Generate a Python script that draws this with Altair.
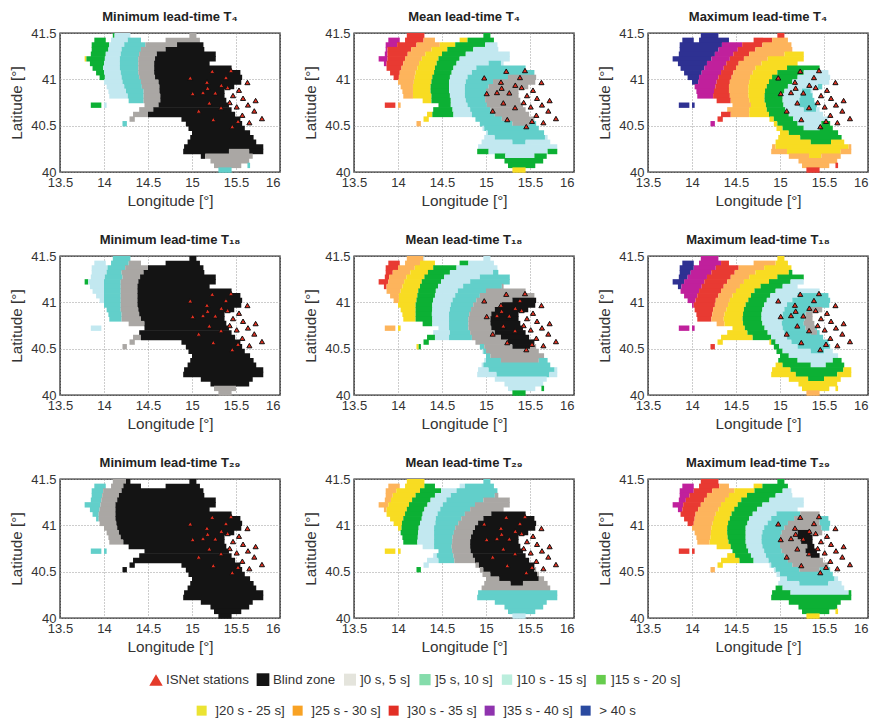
import altair as alt
import pandas as pd

LATS = [41.475, 41.425, 41.375, 41.325, 41.275, 41.225, 41.175, 41.125, 41.075, 41.025,
        40.975, 40.925, 40.875, 40.825, 40.775, 40.725, 40.675, 40.625, 40.575, 40.525,
        40.475, 40.425, 40.375, 40.325, 40.275, 40.225, 40.175, 40.125, 40.075, 40.025]

LAND = [
    [(14.10, 14.30), (14.97, 15.05)],
    [(13.89, 14.02), (14.08, 14.42), (14.70, 15.09)],
    [(13.86, 15.13)], [(13.86, 15.14)], [(13.85, 15.27)], [(13.78, 15.27)], [(13.84, 15.20)],
    [(13.87, 15.45)], [(13.91, 15.55)], [(13.95, 15.57)], [(14.00, 15.56)], [(14.03, 15.48)],
    [(14.05, 15.37)], [(14.06, 15.37)], [(14.28, 15.39)],
    [(13.85, 13.97), (14.00, 14.03), (14.46, 15.42)],
    [(14.40, 15.45)], [(14.33, 15.49)],
    [(14.29, 14.35), (14.88, 15.55)],
    [(14.21, 14.26), (14.93, 15.57)],
    [(14.96, 15.60)], [(15.00, 15.66)], [(14.98, 15.70)], [(14.95, 15.73)], [(14.91, 15.81)],
    [(14.90, 15.81)], [(15.10, 15.69)], [(15.21, 15.65)],
    [(15.25, 15.56), (15.63, 15.66)], [(15.30, 15.45)],
]

# each row: zone:east-limit ... ; an east limit of 9 means "to the east end of the land"
MIN_T4 = [
    "4:14.12 3:14.30 1:9", "4:14.05 3:14.27 2:14.45 1:9", "4:14.06 3:14.23 2:14.47 1:14.83 B:9",
    "4:14.05 3:14.20 2:14.42 1:14.70 B:9", "4:14.02 3:14.19 2:14.40 1:14.60 B:9",
    "5:13.80 4:14.01 3:14.18 2:14.39 1:14.58 B:9", "4:14.00 3:14.18 2:14.39 1:14.57 B:9",
    "4:13.99 3:14.18 2:14.39 1:14.57 B:9", "4:14.00 3:14.19 2:14.39 1:14.57 B:9",
    "4:14.01 3:14.20 2:14.40 1:14.58 B:9", "3:14.21 2:14.42 1:14.62 B:9", "3:14.23 2:14.43 1:14.63 B:9",
    "3:14.25 2:14.45 1:14.63 B:9", "3:14.27 2:14.45 1:14.64 B:9", "2:14.45 1:14.64 B:9",
    "4:13.98 3:14.05 1:14.62 B:9", "1:14.56 B:9", "1:14.50 B:9", "1:14.50 B:9", "2:14.3 B:9",
    "B:9", "B:9", "B:9", "B:9", "B:9", "B:15.42 1:15.65 B:9", "B:15.15 1:9", "1:9", "1:15.58 2:9", "2:9",
]
MEAN_T4 = [
    "7:14.3 4:9", "8:14.03 7:14.29 6:14.46 5:14.79 4:9", "8:13.99 7:14.21 6:14.475 5:14.65 4:14.99 3:9",
    "8:13.88 7:14.15 6:14.38 5:14.56 4:14.855 3:9", "8:13.88 7:14.11 6:14.31 5:14.5 4:14.77 3:9",
    "8:13.88 7:14.08 6:14.27 5:14.46 4:14.7 3:9", "8:13.87 7:14.06 6:14.24 5:14.44 4:14.665 3:15.03 2:15.17 3:9",
    "7:14.04 6:14.22 5:14.42 4:14.63 3:14.89 2:9", "7:14.02 6:14.2 5:14.41 4:14.61 3:14.84 2:9",
    "7:14.01 6:14.19 5:14.39 4:14.59 3:14.79 2:15.25 1:9", "6:14.18 5:14.38 4:14.58 3:14.77 2:15.08 1:9",
    "6:14.17 5:14.37 4:14.58 3:14.76 2:15.03 1:9", "6:14.17 5:14.37 4:14.58 3:14.76 2:15.0 1:9",
    "6:14.17 5:14.38 4:14.59 3:14.76 2:14.99 1:9", "5:14.38 4:14.6 3:14.77 2:14.99 1:9",
    "7:13.97 6:14.05 4:14.6 3:14.79 2:15.01 1:9", "4:14.62 3:14.82 2:15.05 1:9",
    "5:14.39 4:14.63 3:14.84 2:15.1 1:9", "5:14.6 3:14.87 2:15.18 1:9", "6:14.3 3:14.93 2:15.3 1:15.5 2:9",
    "3:14.98 2:9", "3:15.02 2:9", "3:15.1 2:15.67 3:9", "3:15.3 2:15.45 3:9", "3:9", "4:15.03 3:15.7 4:9",
    "4:15.22 3:15.55 4:9", "4:9", "4:15.6 0:9", "5:9",
]
MAX_T4 = [
    "9:14.5 7:9", "9:14.43 7:14.91 6:9", "9:14.34 8:14.57 7:14.8 6:9", "9:14.3 8:14.52 7:14.72 6:9",
    "9:14.26 8:14.47 7:14.65 6:15.05 5:9", "9:14.22 8:14.43 7:14.59 6:14.86 5:9",
    "9:14.17 8:14.39 7:14.53 6:14.79 5:9", "9:14.14 8:14.36 7:14.5 6:14.72 5:15.08 4:9",
    "9:14.11 8:14.33 7:14.47 6:14.69 5:14.97 4:15.27 3:9", "9:14.08 8:14.3 7:14.45 6:14.66 5:14.91 4:15.2 3:9",
    "9:14.07 8:14.28 7:14.43 6:14.65 5:14.875 4:15.14 3:9", "8:14.265 7:14.42 6:14.64 5:14.85 4:15.09 3:15.43 2:15.5 3:9",
    "8:14.25 7:14.42 6:14.64 5:14.83 4:15.05 3:15.25 2:15.35 3:9", "8:14.24 7:14.43 6:14.64 5:14.825 4:15.03 3:15.23 2:15.39 3:9",
    "7:14.44 6:14.65 5:14.825 4:15.03 3:15.22 2:15.42 3:9", "9:14.1 6:14.67 5:14.84 4:15.04 3:15.22 2:15.43 3:9",
    "6:14.65 5:14.85 4:15.06 3:15.27 2:15.41 3:9", "7:14.44 6:14.65 5:14.875 4:15.1 3:9",
    "7:14.5 5:14.93 4:15.15 3:9", "8:14.3 5:14.97 4:15.2 3:15.47 4:9", "5:15.03 4:15.27 3:15.45 4:9",
    "5:15.1 4:9", "5:15.23 4:15.7 5:9", "5:15.35 4:15.58 5:9", "6:14.95 5:15.78 6:9", "6:15.08 5:15.69 6:9",
    "6:15.33 5:15.47 6:9", "6:9", "6:15.6 7:9", "7:9",
]
MIN_T18 = [
    "3:14.1 2:14.31 B:9", "3:14.06 2:14.28 1:14.55 B:9", "3:14.04 2:14.24 1:14.5 B:9", "3:14.03 2:14.2 1:14.45 B:9",
    "3:14.01 2:14.21 1:14.41 B:9", "4:13.82 3:14.0 2:14.19 1:14.39 B:9", "3:14.0 2:14.19 1:14.38 B:9",
    "3:14.0 2:14.19 1:14.38 B:9", "3:14.0 2:14.19 1:14.38 B:9", "3:14.0 2:14.19 1:14.38 B:9",
    "2:14.19 1:14.38 B:9", "2:14.19 1:14.39 B:9", "2:14.2 1:14.4 B:9", "2:14.2 1:14.42 B:9", "1:14.46 B:9",
    "3:13.98 0:14.1 B:9", "B:9", "1:14.42 B:9", "1:14.42 B:9", "1:14.3 B:9", "B:9", "B:9", "B:9", "B:9", "B:9",
    "B:9", "B:9", "B:9", "1:15.5 0:9", "1:9",
]
MEAN_T18 = [
    "6:14.29 3:9", "7:14.02 6:14.25 5:14.475 4:14.8 3:9", "7:14.0 6:14.19 5:14.4 4:14.665 3:9",
    "7:13.94 6:14.14 5:14.34 4:14.59 3:15.08 2:9", "7:13.9 6:14.095 5:14.3 4:14.525 3:14.93 2:9",
    "7:13.89 6:14.07 5:14.27 4:14.49 3:14.82 2:9", "7:13.87 6:14.05 5:14.25 4:14.455 3:14.74 2:15.18 1:9",
    "6:14.03 5:14.23 4:14.43 3:14.68 2:15.0 1:9", "6:14.01 5:14.22 4:14.42 3:14.65 2:14.93 1:9",
    "6:14.01 5:14.21 4:14.4 3:14.62 2:14.89 1:15.3 B:9", "5:14.2 4:14.39 3:14.6 2:14.855 1:15.18 B:9",
    "5:14.2 4:14.39 3:14.59 2:14.83 1:15.1 B:9", "5:14.2 4:14.385 3:14.58 2:14.81 1:15.06 B:9",
    "5:14.2 4:14.39 3:14.58 2:14.8 1:15.05 B:9", "4:14.39 3:14.58 2:14.8 1:15.05 B:9",
    "6:13.97 5:14.05 3:14.58 2:14.8 1:15.06 B:9", "3:14.59 2:14.82 1:15.1 B:9", "4:14.42 3:14.58 2:14.84 1:15.17 B:9",
    "4:14.5 2:14.875 1:15.25 B:9", "5:14.235 4:14.3 2:14.98 1:15.3 B:15.5 1:9", "3:14.97 2:15.0 1:9", "2:15.05 1:9",
    "3:15.0 2:15.17 1:15.6 2:9", "3:14.97 2:9", "3:15.03 2:15.78 3:9", "3:15.12 2:15.72 3:9", "3:9", "3:9",
    "3:15.6 4:9", "4:9",
]
MAX_T18 = [
    "9:14.1 8:14.5 5:9", "9:14.06 8:14.33 7:14.5 6:14.95 5:9", "9:14.02 8:14.27 7:14.53 6:14.82 5:9",
    "9:13.985 8:14.22 7:14.485 6:14.72 5:15.1 4:9", "9:13.95 8:14.17 7:14.44 6:14.65 5:14.97 4:9",
    "9:13.91 8:14.14 7:14.4 6:14.59 5:14.875 4:15.12 3:9", "9:13.88 8:14.11 7:14.36 6:14.545 5:14.78 4:15.03 3:9",
    "8:14.08 7:14.33 6:14.5 5:14.71 4:14.95 3:9", "8:14.06 7:14.3 6:14.46 5:14.67 4:14.89 3:15.2 2:9",
    "8:14.04 7:14.27 6:14.43 5:14.64 4:14.85 3:15.14 2:9", "8:14.02 7:14.26 6:14.41 5:14.61 4:14.82 3:15.08 2:9",
    "7:14.24 6:14.39 5:14.59 4:14.8 3:15.05 2:15.35 1:9", "7:14.23 6:14.37 5:14.58 4:14.79 3:15.03 2:15.29 1:9",
    "7:14.22 6:14.36 5:14.575 4:14.79 3:15.03 2:15.28 1:9", "6:14.37 5:14.58 4:14.8 3:15.02 2:15.27 1:9",
    "8:14.1 5:14.6 4:14.825 3:15.03 2:15.29 1:15.4 2:9", "5:14.63 4:14.86 3:15.05 2:15.35 1:15.42 2:9",
    "5:14.69 4:14.9 3:15.08 2:9", "5:14.9 4:14.95 3:15.13 2:9", "7:14.3 4:14.99 3:15.2 2:9",
    "4:15.03 3:15.35 2:15.5 3:9", "4:15.1 3:9", "4:15.2 3:15.6 4:9", "5:15.03 4:15.35 3:15.52 4:9",
    "5:15.12 4:15.72 5:9", "5:15.18 4:15.65 5:9", "5:15.32 4:15.5 5:9", "5:9", "5:9", "6:9",
]
MIN_T29 = [
    "1:14.25 B:9", "2:14.05 1:14.22 B:9", "2:13.99 1:14.2 B:9", "2:13.98 1:14.17 B:9", "2:13.97 1:14.15 B:9",
    "2:13.96 1:14.13 B:9", "2:13.95 1:14.13 B:9", "2:13.94 1:14.13 B:9", "2:13.94 1:14.13 B:9", "2:13.94 1:14.14 B:9",
    "1:14.15 B:9", "1:14.17 B:9", "1:14.19 B:9", "1:14.22 B:9", "B:9", "2:14.1 B:9", "B:9", "B:9", "B:9", "B:9",
    "B:9", "B:9", "B:9", "B:9", "B:9", "B:9", "B:9", "B:9", "B:15.58 0:9", "B:9",
]
MEAN_T29 = [
    "5:14.3 2:9", "6:14.02 5:14.3 4:14.5 3:14.76 2:9", "6:13.98 5:14.25 4:14.49 3:14.665 2:9",
    "6:13.94 5:14.2 4:14.42 3:14.6 2:15.1 1:9", "6:13.92 5:14.16 4:14.37 3:14.55 2:14.97 1:9",
    "6:13.89 5:14.125 4:14.335 3:14.51 2:14.875 1:9", "6:13.87 5:14.1 4:14.3 3:14.48 2:14.82 1:9",
    "5:14.08 4:14.28 3:14.45 2:14.76 1:15.06 B:9", "5:14.06 4:14.27 3:14.43 2:14.72 1:14.97 B:9",
    "5:14.045 4:14.25 3:14.425 2:14.685 1:14.91 B:9", "5:14.04 4:14.235 3:14.41 2:14.65 1:14.875 B:9",
    "5:14.03 4:14.23 3:14.41 2:14.635 1:14.85 B:9", "4:14.225 3:14.41 2:14.62 1:14.83 B:9",
    "4:14.22 3:14.41 2:14.615 1:14.82 B:9", "3:14.41 2:14.61 1:14.82 B:9",
    "5:14.1 3:14.42 2:14.615 1:14.825 B:9", "3:14.44 2:14.63 1:14.85 B:9", "3:14.46 2:14.64 1:14.875 B:9",
    "3:14.5 1:14.92 B:9", "4:14.3 1:14.97 B:15.55 1:9", "1:15.05 B:15.58 1:9", "1:15.15 B:15.6 1:9",
    "1:15.28 B:15.42 1:9", "1:9", "2:9", "2:9", "2:9", "2:9", "2:15.58 0:9", "3:9",
]
MAX_T29 = [
    "7:14.5 4:9", "8:14.06 7:14.31 6:14.5 5:14.8 4:9", "8:14.02 7:14.23 6:14.48 5:14.71 4:15.03 3:9",
    "8:13.97 7:14.17 6:14.42 5:14.625 4:14.95 3:9", "8:13.93 7:14.14 6:14.375 5:14.56 4:14.88 3:9",
    "8:13.9 7:14.1 6:14.33 5:14.52 4:14.8 3:9", "8:13.89 7:14.07 6:14.3 5:14.48 4:14.74 3:9",
    "7:14.04 6:14.27 5:14.45 4:14.69 3:14.96 2:15.23 1:9", "7:14.03 6:14.25 5:14.43 4:14.65 3:14.9 2:15.16 1:15.45 2:9",
    "7:14.02 6:14.235 5:14.41 4:14.63 3:14.86 2:15.09 1:15.45 2:9", "6:14.22 5:14.4 4:14.61 3:14.82 2:15.05 1:15.47 2:9",
    "6:14.215 5:14.4 4:14.61 3:14.8 2:15.02 1:15.2 B:15.35 1:9", "6:14.21 5:14.405 4:14.61 3:14.79 2:15.0 1:15.2 B:15.39 1:9",
    "6:14.2 5:14.415 4:14.61 3:14.79 2:15.0 1:15.24 B:9", "5:14.44 4:14.62 3:14.8 2:15.0 1:15.31 B:9",
    "7:14.1 5:14.46 4:14.64 3:14.82 2:15.02 1:15.29 B:9", "5:14.49 4:14.67 3:14.84 2:15.05 1:15.35 B:9",
    "5:14.54 4:14.7 3:14.87 2:15.09 1:9", "5:14.6 3:14.9 2:15.14 1:9", "6:14.3 3:14.95 2:15.22 1:15.45 2:9",
    "3:15.0 2:9", "3:15.08 2:15.62 3:9", "3:15.22 2:15.55 3:9", "4:15.03 3:9", "4:15.12 3:15.78 4:9", "4:9", "4:9",
    "4:9", "4:15.58 5:9", "5:9",
]

STATION_LON = [14.98, 15.23, 15.443, 15.386, 15.17, 15.63, 15.178, 15.333, 15.405, 15.534, 15.008, 15.125, 15.265,
               15.466, 15.58, 15.723, 15.197, 15.428, 15.636, 15.33, 15.508, 15.076, 15.708, 15.572, 15.795, 15.242,
               15.523, 15.652, 15.458]
STATION_LAT = [41.016, 41.088, 41.095, 41.02, 40.97, 40.966, 40.905, 40.937, 40.912, 40.883, 40.847, 40.858, 40.854,
               40.825, 40.796, 40.771, 40.746, 40.75, 40.724, 40.695, 40.703, 40.659, 40.659, 40.613, 40.577, 40.566,
               40.548, 40.533, 40.49]

ZONE_IDS = ["B", "1", "2", "3", "4", "5", "6", "7", "8", "9"]
MAP_COLORS = ["#141414", "#aaa7a4", "#62cfca", "#c2e8f0", "#0cb034", "#f8dc22", "#fdb45c", "#e83a32", "#c0209c", "#2e3192"]
LEGEND_ROW1 = ["ISNet stations", "Blind zone", "]0 s, 5 s]", "]5 s, 10 s]", "]10 s - 15 s]", "]15 s - 20 s]"]
LEGEND_ROW1_COLORS = ["#e43a2a", "#141414", "#e4e4dc", "#85dcab", "#bbeedd", "#66cc4d"]
LEGEND_ROW1_SHAPES = ["triangle-up", "square", "square", "square", "square", "square"]
LEGEND_ROW1_SIZES = [180, 90, 90, 90, 90, 90]
LEGEND_ROW2 = ["]20 s - 25 s]", "]25 s - 30 s]", "]30 s - 35 s]", "]35 s - 40 s]", "> 40 s"]
LEGEND_ROW2_COLORS = ["#ebe332", "#f8a224", "#e22f25", "#8f33ae", "#2a4aa0"]

PANELS = [
    ("Minimum lead-time T₄", MIN_T4), ("Mean lead-time T₄", MEAN_T4), ("Maximum lead-time T₄", MAX_T4),
    ("Minimum lead-time T₁₈", MIN_T18), ("Mean lead-time T₁₈", MEAN_T18), ("Maximum lead-time T₁₈", MAX_T18),
    ("Minimum lead-time T₂₉", MIN_T29), ("Mean lead-time T₂₉", MEAN_T29), ("Maximum lead-time T₂₉", MAX_T29),
]

FONT = "Liberation Sans"
INK = "#333333"

zone_scale = alt.Scale(domain=ZONE_IDS, range=MAP_COLORS)
x_scale = alt.Scale(domain=[13.5, 16], nice=False, zero=False)
y_scale = alt.Scale(domain=[40, 41.5], nice=False, zero=False)
x_axis = alt.Axis(
    title="Longitude [°]", values=[13.5, 14, 14.5, 15, 15.5, 16], format="~g", labelFlush=False,
    labelAlign={"condition": {"test": "datum.value >= 16", "value": "right"}, "value": "center"},
)
y_axis = alt.Axis(title="Latitude [°]", values=[40, 40.5, 41, 41.5], format="~g")


def cells(rows):
    out = []
    half = 0.025
    for lat, segments, row in zip(LATS, LAND, rows):
        start = 0.0
        for token in row.split():
            zone, end = token.split(":")
            end = 99.0 if end == "9" else float(end)
            if zone != "0":
                for a, b in segments:
                    lo, hi = max(a, start), min(b, end)
                    if hi > lo:
                        out.append(dict(lon0=lo, lon1=hi, lat0=lat - half - 0.008, lat1=lat + half, zone=zone))
            start = end
    return pd.DataFrame(out)


stations = pd.DataFrame({"lon": STATION_LON, "lat": STATION_LAT})
row1 = pd.DataFrame({"label": LEGEND_ROW1})
row2 = pd.DataFrame({"label": LEGEND_ROW2})


def panel(title, rows, with_legend=False):
    zones = alt.Chart(cells(rows)).mark_rect(strokeWidth=0).encode(
        x=alt.X("lon0:Q", scale=x_scale, axis=x_axis),
        x2="lon1:Q",
        y=alt.Y("lat0:Q", scale=y_scale, axis=y_axis),
        y2="lat1:Q",
        fill=alt.Fill("zone:N", scale=zone_scale, legend=None),
    )
    pts = alt.Chart(stations).mark_point(
        shape="triangle-up", filled=True, fill="#e43020", stroke="#111111", strokeWidth=1, size=26, opacity=1
    ).encode(
        x=alt.X("lon:Q", scale=x_scale, axis=x_axis),
        y=alt.Y("lat:Q", scale=y_scale, axis=y_axis),
    )
    layers = [zones, pts]
    if with_legend:
        common = dict(orient="none", title=None, direction="horizontal", gridAlign="none", symbolOpacity=1,
                      labelFont=FONT, labelFontSize=13.3, labelColor=INK, labelLimit=200)
        leg1 = alt.Legend(columns=6, legendX=89, legendY=640, symbolStrokeWidth=0, labelOffset=3, columnPadding=7,
                          **common)
        leg2 = alt.Legend(columns=5, legendX=135, legendY=671, symbolType="square", symbolSize=1,
                          symbolStrokeWidth=9, labelOffset=7, columnPadding=-6, **common)
        layers.append(
            alt.Chart(row1).mark_point(filled=True, opacity=0).encode(
                color=alt.Color("label:N", scale=alt.Scale(domain=LEGEND_ROW1, range=LEGEND_ROW1_COLORS), legend=leg1),
                shape=alt.Shape("label:N", scale=alt.Scale(domain=LEGEND_ROW1, range=LEGEND_ROW1_SHAPES), legend=leg1),
                size=alt.Size("label:N", scale=alt.Scale(domain=LEGEND_ROW1, range=LEGEND_ROW1_SIZES), legend=leg1),
            )
        )
        layers.append(
            alt.Chart(row2).mark_point(filled=False, opacity=0).encode(
                stroke=alt.Stroke("label:N", scale=alt.Scale(domain=LEGEND_ROW2, range=LEGEND_ROW2_COLORS), legend=leg2),
            )
        )
    return alt.layer(*layers).properties(
        width=220, height=139,
        title=alt.TitleParams(title, fontSize=13, fontWeight="bold", font=FONT, color="#222222", offset=3),
    )


charts = [panel(t, rows, with_legend=(i == 7)) for i, (t, rows) in enumerate(PANELS)]

chart = (
    alt.concat(*charts, columns=3, spacing=alt.RowColnumber(row=84, column=74), bounds="flush")
    .properties(padding={"left": 0, "top": 2, "right": 0, "bottom": 0})
    .configure_view(stroke="#222222", strokeWidth=1.4)
    .configure_axis(
        grid=True, gridColor="#9a9a9a", gridDash=[1, 2], gridWidth=1, ticks=False, domain=False,
        labelFont=FONT, labelFontSize=13, labelColor=INK, titleFont=FONT, titleFontSize=15.3,
        titleFontWeight="normal", titleColor=INK, labelPadding=4,
    )
    .configure_axisX(titlePadding=4)
    .configure_axisY(titlePadding=6)
)

chart.save("out.html", embed_options={"renderer": "svg", "actions": False})
